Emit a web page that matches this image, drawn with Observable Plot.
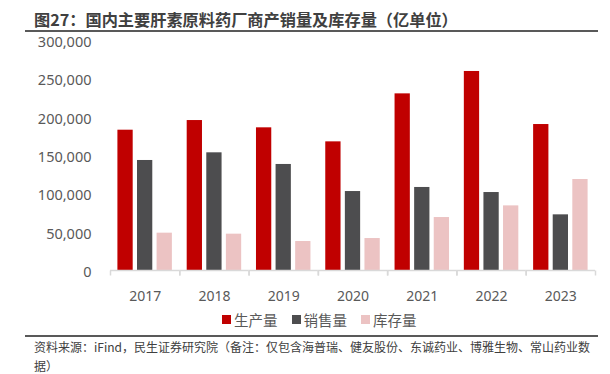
<!DOCTYPE html>
<html>
<head>
<meta charset="utf-8">
<script src="https://cdn.jsdelivr.net/npm/d3@7"></script>
<script src="https://cdn.jsdelivr.net/npm/@observablehq/plot@0.6"></script>
<style>
  html, body { margin: 0; padding: 0; background: #fff; }
  body { width: 610px; height: 374px; overflow: hidden; font-family: "Noto Sans", "Noto Sans CJK SC", sans-serif; }
  #title { margin-left: 25px; width: 573px; height: 32px; box-sizing: border-box; border-bottom: 2px solid #595959;
           padding-left: 9px; font-size: 16.2px; font-weight: 700; color: #404040; line-height: 18px; padding-top: 10px;
           font-family: "Noto Sans CJK SC", sans-serif; white-space: nowrap; }
  #chart { height: 278px; margin-top: -4px; position: relative; }
  #chart svg { display: block; overflow: visible; }
  #legend { height: 29px; display: flex; align-items: center; padding-left: 222px; box-sizing: border-box; padding-bottom: 2px;
            font-family: "Noto Sans CJK SC", sans-serif; font-size: 14.5px; color: #595959; }
  #legend .item { display: flex; align-items: center; margin-right: 14px; }
  #legend .sw { width: 9px; height: 9px; margin-right: 3px; }
  #caption { margin-left: 25px; width: 573px; box-sizing: border-box; border-top: 2px solid #595959;
             padding-left: 9px; padding-right: 4px; padding-top: 0px; font-size: 12px; line-height: 19px; color: #404040;
             font-family: "Noto Sans CJK SC", sans-serif; }
</style>
</head>
<body>
<div id="title">图27：国内主要肝素原料药厂商产销量及库存量（亿单位）</div>
<div id="chart"></div>
<div id="legend"></div>
<div id="caption">资料来源：iFind，民生证券研究院（备注：仅包含海普瑞、健友股份、东诚药业、博雅生物、常山药业数据）</div>
<script>
const years = ["2017", "2018", "2019", "2020", "2021", "2022", "2023"];
const series = ["生产量", "销售量", "库存量"];
const production = [183000, 195600, 186100, 167800, 230400, 259600, 190400];
const sales = [143500, 153500, 138300, 103000, 108300, 101700, 72600];
const inventory = [48700, 47400, 37800, 41700, 69100, 84300, 118700];
const colors = ["#C00000", "#4D4D4F", "#ECC3C3"];
const yTicks = [0, 50000, 100000, 150000, 200000, 250000, 300000];

const valuesBySeries = [production, sales, inventory];
const data = years.flatMap((year, i) =>
  series.map((s, j) => ({year, series: s, value: valuesBySeries[j][i]}))
);

// short downward tick used as the category separator below the baseline
const separator = {draw(context) { context.moveTo(0, 0); context.lineTo(0, 5); }};

const H = 278, MT = 12, MB = 36;
const chart = Plot.plot({
  width: 610,
  height: H,
  marginTop: MT,
  marginBottom: MB,
  marginLeft: 110,
  marginRight: 15,
  style: {fontFamily: "'Noto Sans', 'Noto Sans CJK SC', sans-serif", color: "#595959", background: "transparent", overflow: "visible"},
  fx: {domain: years, padding: 0, round: false},
  x: {domain: series, paddingInner: 0.22, paddingOuter: 0.378, round: false, axis: null},
  y: {domain: [0, 300000]},
  color: {domain: series, range: colors},
  marks: [
    Plot.barY(data, {fx: "year", x: "series", y: "value", fill: "series"}),
    Plot.ruleY([0], {stroke: "#d9d9d9", strokeWidth: 1.5}),
    Plot.dot([0], {frameAnchor: "bottom-left", symbol: separator, stroke: "#d9d9d9", strokeWidth: 1.5, fill: "none"}),
    Plot.dot([0], {frameAnchor: "bottom-right", symbol: separator, stroke: "#d9d9d9", strokeWidth: 1.5, fill: "none"}),
    Plot.axisY({ticks: yTicks, tickFormat: d3.format(","), tickSize: 0, tickPadding: 19, fontSize: 14.5, dy: 2, label: null, fill: "#595959"}),
    Plot.axisFx({anchor: "bottom", tickSize: 0, tickPadding: 21, fontSize: 14, label: null, fill: "#595959"})
  ]
});
document.getElementById("chart").appendChild(chart);

const legend = d3.select("#legend");
series.forEach((s, i) => {
  const item = legend.append("div").attr("class", "item");
  item.append("div").attr("class", "sw").style("background", colors[i]);
  item.append("span").text(s);
});
</script>
</body>
</html>
